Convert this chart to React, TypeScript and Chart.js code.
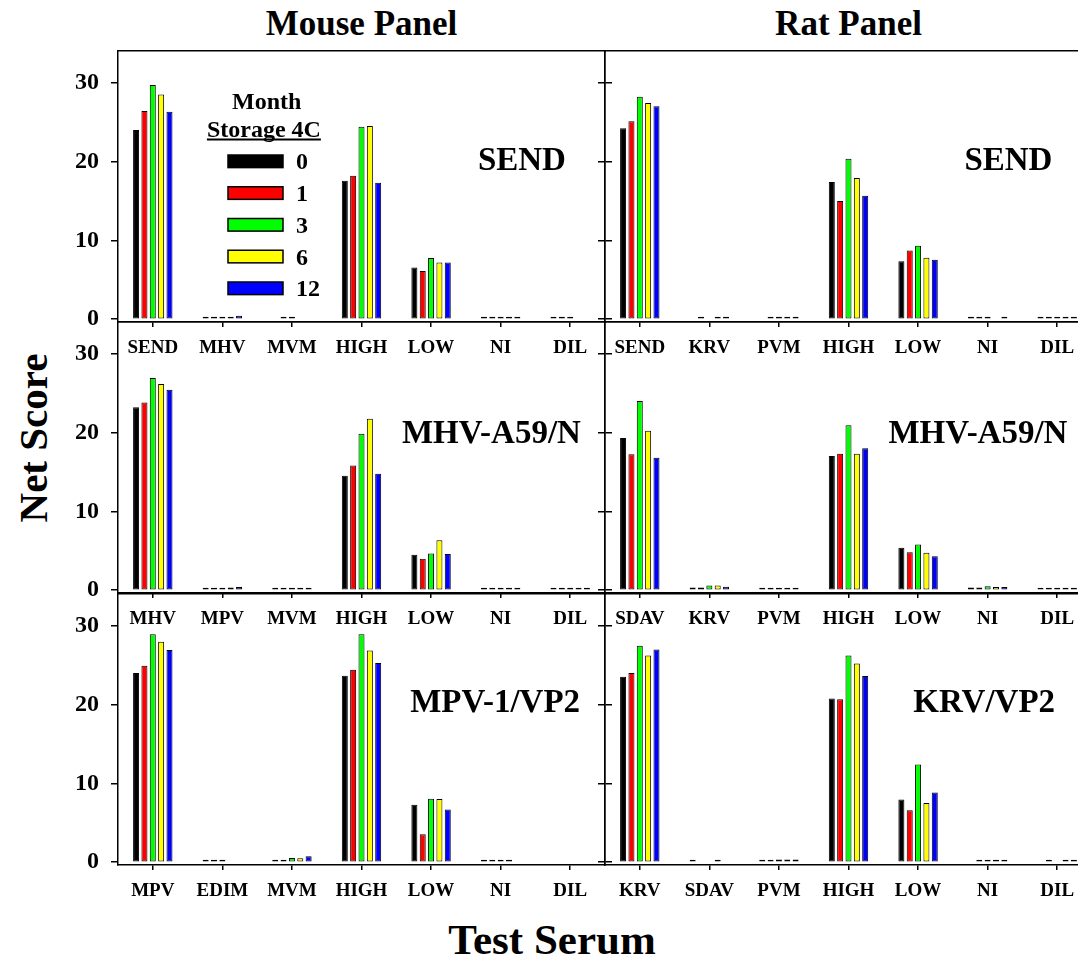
import React, { useEffect, useRef } from "react";
import { Chart, registerables } from "chart.js";

Chart.register(...registerables);

// ---------------- data ----------------
const months = ["0", "1", "3", "6", "12"];
const monthColors = ["#000000", "#ff0000", "#00ff00", "#ffff00", "#0000ff"];
const yTickValues = [0, 10, 20, 30];
const legendTitle = ["Month", "Storage 4C"];
const columnTitles = ["Mouse Panel", "Rat Panel"];
const yAxisTitle = "Net Score";
const xAxisTitle = "Test Serum";

// Mouse panel, SEND antigen
const mouseSendCats = ["SEND", "MHV", "MVM", "HIGH", "LOW", "NI", "DIL"];
const mouseSendValues = [
  [24.0, 0.3, null, 17.55, 6.55, 0.3, 0.3],
  [26.4, 0.3, 0.3, 18.2, 6.1, 0.3, 0.3],
  [29.7, 0.3, 0.3, 24.4, 7.75, 0.3, 0.3],
  [28.5, 0.3, null, 24.5, 7.2, 0.3, null],
  [26.3, 0.45, null, 17.3, 7.2, 0.3, null],
];

// Rat panel, SEND antigen
const ratSendCats = ["SEND", "KRV", "PVM", "HIGH", "LOW", "NI", "DIL"];
const ratSendValues = [
  [24.2, null, null, 17.4, 7.35, 0.3, 0.3],
  [25.1, 0.3, 0.3, 15.0, 8.7, 0.3, 0.3],
  [28.2, null, 0.3, 20.35, 9.3, 0.3, 0.3],
  [27.4, 0.3, 0.3, 17.9, 7.8, null, 0.3],
  [27.0, 0.3, 0.3, 15.65, 7.55, 0.3, 0.3],
];

// Mouse panel, MHV-A59/N antigen
const mouseMhvCats = ["MHV", "MPV", "MVM", "HIGH", "LOW", "NI", "DIL"];
const mouseMhvValues = [
  [23.2, 0.3, 0.3, 14.5, 4.5, 0.3, 0.3],
  [23.8, 0.3, 0.3, 15.8, 4.0, 0.3, 0.3],
  [26.9, 0.3, 0.3, 19.85, 4.65, 0.3, 0.3],
  [26.15, 0.35, 0.3, 21.75, 6.35, 0.3, 0.3],
  [25.4, 0.4, 0.3, 14.75, 4.6, 0.3, 0.3],
];

// Rat panel, MHV-A59/N antigen
const ratMhvCats = ["SDAV", "KRV", "PVM", "HIGH", "LOW", "NI", "DIL"];
const ratMhvValues = [
  [19.3, 0.35, 0.3, 17.0, 5.4, 0.35, 0.3],
  [17.25, 0.35, 0.3, 17.3, 4.8, 0.35, 0.3],
  [24.0, 0.6, 0.3, 20.9, 5.8, 0.5, 0.3],
  [20.2, 0.6, 0.3, 17.3, 4.75, 0.4, 0.3],
  [16.8, 0.45, 0.3, 18.0, 4.3, 0.4, 0.3],
];

// Mouse panel, MPV-1/VP2 antigen
const mouseMpvCats = ["MPV", "EDIM", "MVM", "HIGH", "LOW", "NI", "DIL"];
const mouseMpvValues = [
  [24.0, 0.3, 0.3, 23.65, 7.3, 0.3, null],
  [24.9, 0.3, 0.3, 24.4, 3.55, 0.3, null],
  [28.9, 0.3, 0.55, 28.9, 8.05, 0.3, null],
  [27.95, null, 0.5, 26.85, 8.0, 0.3, null],
  [26.9, null, 0.75, 25.25, 6.7, null, null],
];

// Rat panel, KRV/VP2 antigen
const ratKrvCats = ["KRV", "SDAV", "PVM", "HIGH", "LOW", "NI", "DIL"];
const ratKrvValues = [
  [23.5, 0.3, 0.3, 20.75, 7.95, null, null],
  [24.0, null, 0.3, 20.65, 6.6, 0.3, 0.3],
  [27.45, null, 0.35, 26.2, 12.4, 0.3, null],
  [26.2, 0.3, 0.35, 25.2, 7.5, 0.3, 0.3],
  [26.95, null, 0.35, 23.6, 8.85, 0.3, 0.3],
];

// ---------------- layout ----------------
const FONT = "'Liberation Serif', 'Times New Roman', Times, serif";
const ROW_TOPS = [51, 322, 594];
const AREA_H = 271;
const LEFT_X = 118;
const MID_X = 605;
const RIGHT_X = 1092;
const PAD_TOP = 15;
const XAXIS_H = 50;
const Y_MIN = -0.35;
const Y_MAX = 34;

type PanelDef = {
  cats: string[];
  values: (number | null)[][];
  label: string;
  labelPos: [number, number]; // [fraction of width, y value of baseline]
  col: number;
  row: number;
  legend?: boolean;
};

const panels: PanelDef[] = [
  { cats: mouseSendCats, values: mouseSendValues, label: "SEND", labelPos: [0.739, 18.95], col: 0, row: 0, legend: true },
  { cats: ratSendCats, values: ratSendValues, label: "SEND", labelPos: [0.738, 18.95], col: 1, row: 0 },
  { cats: mouseMhvCats, values: mouseMhvValues, label: "MHV-A59/N", labelPos: [0.583, 18.7], col: 0, row: 1 },
  { cats: ratMhvCats, values: ratMhvValues, label: "MHV-A59/N", labelPos: [0.582, 18.7], col: 1, row: 1 },
  { cats: mouseMpvCats, values: mouseMpvValues, label: "MPV-1/VP2", labelPos: [0.6, 19.0], col: 0, row: 2 },
  { cats: ratKrvCats, values: ratKrvValues, label: "KRV/VP2", labelPos: [0.633, 19.0], col: 1, row: 2 },
];

const zeroPad = (s: any) => {
  s.paddingLeft = 0;
  s.paddingRight = 0;
  s.paddingTop = 0;
  s.paddingBottom = 0;
};

const panelPlugin = {
  id: "panelDecor",
  afterDatasetsDraw(chart: any, _args: any, opts: any) {
    const { ctx, chartArea, scales } = chart;
    ctx.save();
    ctx.fillStyle = "#000";
    ctx.font = `bold 33px ${FONT}`;
    ctx.textAlign = "left";
    ctx.textBaseline = "alphabetic";
    const x = chartArea.left + opts.fx * (chartArea.right - chartArea.left);
    const y = scales.y.getPixelForValue(opts.vy);
    ctx.fillText(opts.text, x, y);

    if (opts.legend) {
      const L = chartArea.left;
      const T = chartArea.top;
      ctx.font = `bold 24px ${FONT}`;
      ctx.textAlign = "center";
      ctx.fillText(legendTitle[0], L + 148.7, T + 58.3);
      ctx.fillText(legendTitle[1], L + 145.9, T + 85.7);
      const w = ctx.measureText(legendTitle[1]).width;
      ctx.fillRect(L + 145.9 - w / 2, T + 87.5, w, 2);
      chart.data.datasets.forEach((ds: any, i: number) => {
        const cy = T + 110.3 + i * 31.75;
        ctx.fillStyle = ds.backgroundColor;
        ctx.fillRect(L + 110, cy - 6.3, 55, 12.6);
        ctx.strokeStyle = "#000";
        ctx.lineWidth = 1.5;
        ctx.strokeRect(L + 110, cy - 6.3, 55, 12.6);
        ctx.fillStyle = "#000";
        ctx.textAlign = "left";
        ctx.fillText(ds.label, L + 178, cy + 8);
      });
    }
    ctx.restore();
  },
};

function Panel({ p }: { p: PanelDef }) {
  const ref = useRef<HTMLCanvasElement | null>(null);
  const isLeft = p.col === 0;
  const canvasLeft = isLeft ? 0 : MID_X - 45;
  const canvasWidth = isLeft ? MID_X + 35 : RIGHT_X - (MID_X - 45) + 20;
  const canvasTop = ROW_TOPS[p.row] - PAD_TOP;
  const canvasHeight = PAD_TOP + AREA_H + XAXIS_H;

  useEffect(() => {
    if (!ref.current) return;
    const black = "#000";
    const borderOpt = { display: true, color: black, width: 1.5 };
    const scales: any = {
      x: {
        type: "category",
        position: "bottom",
        offset: true,
        grid: { display: true, drawOnChartArea: false, drawTicks: true, tickLength: 5, offset: false, color: black, lineWidth: 1.5 },
        border: borderOpt,
        ticks: { color: black, font: { family: FONT, size: 19, weight: "bold" }, padding: 10, maxRotation: 0, autoSkip: false },
        afterFit: (s: any) => {
          s.height = XAXIS_H;
          zeroPad(s);
        },
      },
      xTop: {
        type: "category",
        position: "top",
        display: true,
        labels: p.cats,
        grid: { display: false },
        border: borderOpt,
        ticks: { display: false },
        afterFit: (s: any) => {
          s.height = 0;
          zeroPad(s);
        },
      },
      y: {
        type: "linear",
        position: "left",
        min: Y_MIN,
        max: Y_MAX,
        afterBuildTicks: (s: any) => {
          s.ticks = yTickValues.map((v) => ({ value: v }));
        },
        grid: { display: true, drawOnChartArea: false, drawTicks: true, tickLength: 7, color: black, lineWidth: 1.5 },
        border: borderOpt,
        ticks: {
          display: isLeft,
          color: black,
          font: { family: FONT, size: 24, weight: "bold" },
          padding: 12,
          callback: (v: any) => String(v),
        },
        afterFit: (s: any) => {
          s.width = isLeft ? LEFT_X : 45;
          zeroPad(s);
        },
      },
    };
    if (isLeft) {
      scales.y2 = {
        type: "linear",
        position: "right",
        min: Y_MIN,
        max: Y_MAX,
        afterBuildTicks: (s: any) => {
          s.ticks = yTickValues.map((v) => ({ value: v }));
        },
        grid: { display: true, drawOnChartArea: false, drawTicks: true, tickLength: 7, color: black, lineWidth: 1.5 },
        border: borderOpt,
        ticks: { display: false },
        afterFit: (s: any) => {
          s.width = 35;
          zeroPad(s);
        },
      };
    }

    const chart = new Chart(ref.current, {
      type: "bar",
      data: {
        labels: p.cats,
        datasets: months.map((m, i) => ({
          label: m,
          data: p.values[i],
          backgroundColor: monthColors[i],
          borderColor: black,
          borderWidth: 1,
          borderSkipped: false,
          barPercentage: 0.72,
          categoryPercentage: 0.6,
        })),
      },
      options: {
        responsive: false,
        animation: false,
        devicePixelRatio: 1,
        layout: { padding: { top: PAD_TOP, left: 0, right: isLeft ? 0 : 20, bottom: 0 } },
        scales,
        plugins: {
          legend: { display: false },
          tooltip: { enabled: false },
          title: { display: false },
          panelDecor: { text: p.label, fx: p.labelPos[0], vy: p.labelPos[1], legend: !!p.legend },
        } as any,
      },
      plugins: [panelPlugin],
    } as any);
    return () => chart.destroy();
  }, [p]);

  return (
    <canvas
      ref={ref}
      width={canvasWidth}
      height={canvasHeight}
      style={{ position: "absolute", left: canvasLeft, top: canvasTop, width: canvasWidth, height: canvasHeight }}
    />
  );
}

export default function App() {
  const textBase: React.CSSProperties = {
    position: "absolute",
    fontFamily: FONT,
    fontWeight: "bold",
    color: "#000",
    whiteSpace: "nowrap",
    lineHeight: 1,
  };
  return (
    <div
      style={{
        position: "absolute",
        left: 0,
        top: 0,
        width: 1078,
        height: 958,
        overflow: "hidden",
        background: "#fff",
      }}
    >
      <div style={{ ...textBase, fontSize: 35, left: (LEFT_X + MID_X) / 2, top: 6, transform: "translateX(-50%)" }}>
        {columnTitles[0]}
      </div>
      <div style={{ ...textBase, fontSize: 35, left: (MID_X + RIGHT_X) / 2, top: 6, transform: "translateX(-50%)" }}>
        {columnTitles[1]}
      </div>
      <div
        style={{
          ...textBase,
          fontSize: 41,
          left: 33,
          top: 438,
          transform: "translate(-50%, -50%) rotate(-90deg)",
        }}
      >
        {yAxisTitle}
      </div>
      <div style={{ ...textBase, fontSize: 43, left: 552, top: 918, transform: "translateX(-50%)" }}>
        {xAxisTitle}
      </div>
      {panels.map((p, i) => (
        <Panel key={i} p={p} />
      ))}
    </div>
  );
}
